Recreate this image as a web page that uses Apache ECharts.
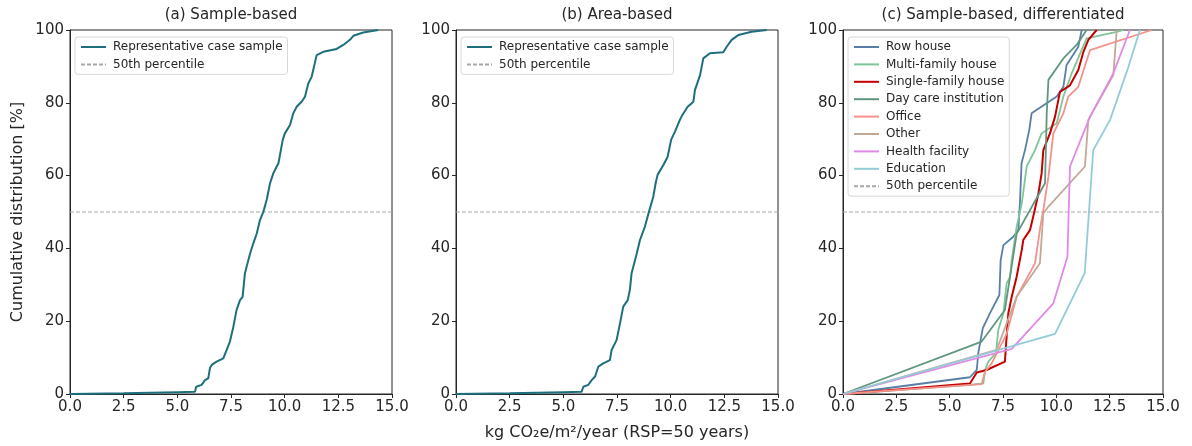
<!DOCTYPE html>
<html><head><meta charset="utf-8">
<script src="https://cdn.jsdelivr.net/npm/echarts@6/dist/echarts.min.js"></script>
<style>html,body{margin:0;padding:0;background:#fff}#c{width:1192px;height:446px}</style>
</head><body><div id="c"></div>
<script>
const panelTitles = ['(a) Sample-based', '(b) Area-based', '(c) Sample-based, differentiated'];
const xAxisTitle = 'kg CO\u2082e/m\u00b2/year (RSP=50 years)';
const yAxisTitle = 'Cumulative distribution [%]';
const mainName = 'Representative case sample';
const medianName = '50th percentile';
const medianLine = [[0, 50], [15, 50]];

const sampleBased = [[0,0],[2.5,0.2],[5.0,0.5],[5.82,0.6],[5.88,2.0],[6.13,2.5],[6.29,3.8],[6.44,4.3],[6.52,7.1],[6.6,8.0],[6.83,8.9],[7.14,9.8],[7.3,12.1],[7.45,14.4],[7.61,18.5],[7.76,23.1],[7.92,25.8],[8.04,26.7],[8.15,33.2],[8.23,35.0],[8.39,38.6],[8.54,41.4],[8.7,44.1],[8.85,47.8],[9.01,50.1],[9.16,53.3],[9.32,57.9],[9.47,60.6],[9.63,62.5],[9.71,63.4],[9.91,69.8],[10.01,71.6],[10.25,73.9],[10.4,77.1],[10.56,78.9],[10.79,80.3],[10.95,81.7],[11.1,85.3],[11.26,87.2],[11.49,93.1],[11.8,94.0],[12.42,94.8],[12.73,95.9],[13.04,97.3],[13.2,98.4],[13.66,99.3],[14.36,100]];

const areaBased = [[0,0],[2.5,0.2],[5.0,0.5],[5.85,0.6],[5.93,2.0],[6.16,2.5],[6.32,3.8],[6.48,4.8],[6.63,7.5],[6.86,8.4],[7.17,9.3],[7.25,12.1],[7.48,14.8],[7.64,19.4],[7.79,24.0],[8.0,25.8],[8.1,28.6],[8.18,33.2],[8.42,38.6],[8.57,42.3],[8.8,46.0],[8.99,50.1],[9.19,54.2],[9.3,57.9],[9.39,60.2],[9.66,62.9],[9.86,65.2],[10.02,69.8],[10.2,72.1],[10.43,75.3],[10.54,76.6],[10.79,78.9],[11.06,80.3],[11.13,83.5],[11.37,87.6],[11.52,92.2],[11.83,93.6],[12.45,93.9],[12.61,95.4],[12.84,97.3],[13.15,98.6],[13.77,99.5],[14.47,100]];

const rowHouse = [[0,0],[5.95,4.6],[6.27,6.6],[6.34,11.2],[6.55,18.0],[6.89,22.2],[7.33,27.2],[7.39,36.8],[7.52,40.9],[7.98,43.2],[8.22,45.1],[8.3,53.3],[8.37,63.4],[8.53,67.0],[8.73,72.5],[8.84,77.1],[10.02,81.7],[10.33,84.4],[10.48,90.4],[11.03,95.4],[11.19,100]];
const multiFamily = [[0,0],[5.95,2.5],[6.58,2.9],[6.66,6.6],[6.81,8.9],[7.17,11.2],[7.28,17.6],[7.52,22.2],[7.67,30.4],[7.83,32.2],[7.91,36.8],[8.14,45.9],[8.38,52.3],[8.61,62.5],[9.0,67.0],[9.31,71.6],[10.02,74.4],[10.33,81.7],[10.72,88.1],[11.42,97.7],[12.83,99.5],[13.14,100]];
const singleFamily = [[0,0],[5.95,2.9],[6.27,5.9],[6.73,6.6],[7.59,8.9],[7.67,15.8],[7.75,22.2],[7.91,26.7],[8.14,32.2],[8.38,39.6],[8.45,42.3],[8.77,45.1],[8.95,49.6],[9.16,55.1],[9.31,60.6],[9.39,67.0],[9.7,71.6],[9.94,76.2],[10.17,83.0],[10.64,84.8],[11.03,89.0],[11.27,94.0],[11.5,97.3],[11.89,100]];
const dayCare = [[0,0],[6.5,14.4],[7.59,23.1],[8.14,44.0],[9.47,57.9],[9.55,77.1],[9.63,86.3],[10.33,92.2],[10.95,95.9],[11.42,100]];
const office = [[0,0],[5.95,2.5],[6.5,2.7],[6.66,6.1],[6.97,8.4],[7.67,16.5],[8.14,26.7],[9.0,35.9],[9.25,45.9],[9.39,50.5],[9.63,59.7],[9.86,71.6],[10.33,77.1],[10.56,81.7],[11.03,84.4],[11.58,94.5],[14.47,100]];
const other = [[0,0],[7.2,12.1],[8.14,26.7],[9.23,35.9],[9.39,49.6],[9.63,51.5],[11.34,62.5],[11.5,75.3],[12.67,87.6],[12.83,100]];
const health = [[0,0],[7.91,12.4],[9.86,24.9],[10.52,37.7],[10.64,62.5],[11.58,76.2],[12.67,88.1],[13.45,100]];
const education = [[0,0],[9.94,16.5],[11.33,33.2],[11.73,67.0],[12.52,75.3],[13.38,89.9],[13.92,100]];

const diffNames = ['Row house', 'Multi-family house', 'Single-family house', 'Day care institution', 'Office', 'Other', 'Health facility', 'Education'];
const diffData = [rowHouse, multiFamily, singleFamily, dayCare, office, other, health, education];
const diffColors = ['#5a7fa6', '#7ec597', '#c40000', '#5f977f', '#f5918b', '#c3a898', '#e08ae6', '#93cbd6'];

const FONT = 'DejaVu Sans';
const grids = [
  {left: 70, top: 30, width: 322, height: 364},
  {left: 456, top: 30, width: 322, height: 364},
  {left: 843, top: 30, width: 320, height: 364}
];
const titleX = [231, 617, 1003];

const option = {
  backgroundColor: '#fff',
  animation: false,
  textStyle: {fontFamily: FONT},
  grid: grids.map(g => Object.assign({show: true, borderColor: '#262626', borderWidth: 1, backgroundColor: 'transparent'}, g)),
  xAxis: grids.map((g, i) => ({
    gridIndex: i, type: 'value', min: 0, max: 15, interval: 2.5,
    axisLine: {show: true, onZero: false, lineStyle: {color: '#262626', width: 1}},
    axisTick: {show: true, length: 4, lineStyle: {color: '#262626'}},
    splitLine: {show: false},
    axisLabel: {color: '#262626', fontSize: 15, fontFamily: FONT, margin: 6, formatter: v => v.toFixed(1)},
    name: i === 1 ? xAxisTitle : '', nameLocation: 'middle', nameGap: 31,
    nameTextStyle: {color: '#262626', fontSize: 16, fontFamily: FONT}
  })),
  yAxis: grids.map((g, i) => ({
    gridIndex: i, type: 'value', min: 0, max: 100, interval: 20,
    axisLine: {show: true, onZero: false, lineStyle: {color: '#262626', width: 1}},
    axisTick: {show: true, length: 4, lineStyle: {color: '#262626'}},
    splitLine: {show: false},
    axisLabel: {color: '#262626', fontSize: 15, fontFamily: FONT, margin: 6},
    name: i === 0 ? yAxisTitle : '', nameLocation: 'middle', nameGap: 44, nameRotate: 90,
    nameTextStyle: {color: '#262626', fontSize: 16, fontFamily: FONT}
  })),
  graphic: panelTitles.map((t, i) => ({
    type: 'text', x: titleX[i], y: 8,
    style: {text: t, textAlign: 'center', textVerticalAlign: 'top', fontSize: 15, fontFamily: FONT, fill: '#262626'}
  })),
  legend: [
    {left: 75, top: 37, data: [mainName, medianName]},
    {left: 461, top: 37, data: [mainName, medianName]},
    {left: 848, top: 37, data: diffNames.concat([medianName])}
  ].map(l => Object.assign({
    orient: 'vertical', itemWidth: 25, itemHeight: 10, itemGap: 5.4,
    padding: [4, 5, 4, 5], borderColor: '#d8d8d8', borderWidth: 1, borderRadius: 3,
    backgroundColor: 'rgba(255,255,255,0.85)', selectedMode: false,
    itemStyle: {opacity: 0, borderWidth: 0},
    textStyle: {fontSize: 12, fontFamily: FONT, color: '#262626', padding: [0, 0, 0, 2]}
  }, l)),
  series: []
};

function lineSeries(name, data, gi, color, width, z) {
  return {name, type: 'line', xAxisIndex: gi, yAxisIndex: gi, data, symbol: 'none', showSymbol: false,
    lineStyle: {color, width}, itemStyle: {color}, z: z || 3};
}
function medianSeries(gi) {
  return {name: medianName, type: 'line', xAxisIndex: gi, yAxisIndex: gi, data: medianLine, symbol: 'none',
    lineStyle: {color: '#a8a8a8', width: 1.2, type: [4, 2]}, itemStyle: {color: '#a8a8a8'}, z: 2};
}
option.series.push(lineSeries(mainName, sampleBased, 0, '#1e6f7e', 2));
option.series.push(medianSeries(0));
option.series.push(lineSeries(mainName, areaBased, 1, '#1e6f7e', 2));
option.series.push(medianSeries(1));
diffNames.forEach((n, k) => option.series.push(lineSeries(n, diffData[k], 2, diffColors[k], k === 2 ? 2 : 1.8, 3)));
option.series.push(medianSeries(2));

const chart = echarts.init(document.getElementById('c'), null, {renderer: 'canvas'});
chart.setOption(option);
</script>
</body></html>
